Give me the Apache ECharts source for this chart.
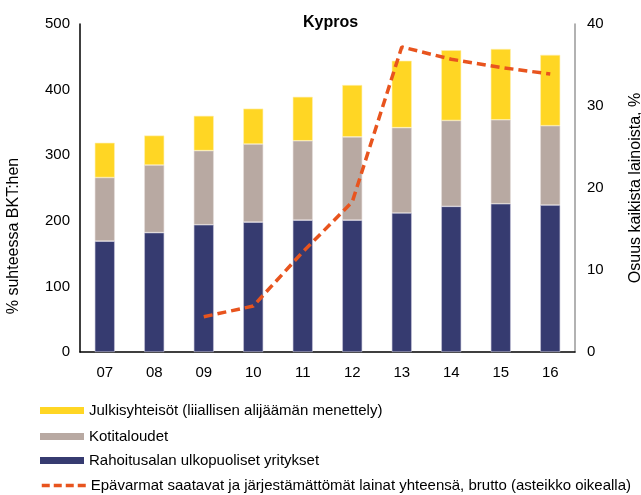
<!DOCTYPE html>
<html>
<head>
<meta charset="utf-8">
<script src="https://cdn.jsdelivr.net/npm/echarts@6/dist/echarts.min.js"></script>
<style>
  html, body { margin: 0; padding: 0; background: #fff; }
  #chart { width: 641px; height: 495px; }
</style>
</head>
<body>
<div id="chart"></div>
<script>
  var years = ['07', '08', '09', '10', '11', '12', '13', '14', '15', '16'];
  var yritykset = [169, 182, 194, 198, 201, 201, 212, 222, 226, 224];
  var kotitaloudet = [97, 103, 113, 119, 121, 127, 130, 131, 128, 121];
  var julkisyhteisot = [53, 45, 53, 54, 67, 79, 102, 107, 108, 108];
  var epavarmat = [null, null, 4.3, 5.6, 12.2, 18.3, 37.2, 35.7, 34.7, 33.9];

  var names = [
    'Julkisyhteisöt (liiallisen alijäämän menettely)',
    'Kotitaloudet',
    'Rahoitusalan ulkopuoliset yritykset',
    'Epävarmat saatavat ja järjestämättömät lainat yhteensä, brutto (asteikko oikealla)'
  ];

  var font = 'Liberation Sans, Arial, sans-serif';
  var chart = echarts.init(document.getElementById('chart'));

  // one legend per row so they stack like the original
  var legendTops = [398, 424, 448, 473];
  var legends = names.map(function (n, i) {
    var item = { name: n };
    if (i < 3) {
      item.icon = 'rect';
      item.itemStyle = { borderWidth: 0 };
    } else {
      item.itemStyle = { opacity: 0 };
    }
    return {
      left: 35,
      top: legendTops[i],
      itemWidth: 44,
      itemHeight: 7,
      selectedMode: false,
      lineStyle: { width: 3.5, type: [8, 4] },
      textStyle: { fontSize: 15, color: '#000', fontFamily: font },
      data: [item]
    };
  });

  chart.setOption({
    animation: false,
    textStyle: { fontFamily: font },
    title: {
      text: 'Kypros',
      left: 298,
      top: 10,
      textStyle: { fontSize: 16, fontWeight: 'bold', color: '#000', fontFamily: font }
    },
    legend: legends,
    grid: { left: 80, right: 66, top: 24, bottom: 143, containLabel: false, outerBoundsMode: 'none' },
    xAxis: {
      type: 'category',
      data: years,
      axisLine: { lineStyle: { color: '#000', width: 1.5 } },
      axisTick: { show: false },
      axisLabel: { fontSize: 15, color: '#000', margin: 13 }
    },
    yAxis: [
      {
        type: 'value',
        min: 0, max: 500, interval: 100,
        name: '% suhteessa BKT:hen',
        nameLocation: 'middle',
        nameGap: 58,
        nameTextStyle: { fontSize: 16, color: '#000', padding: [0, 96, 0, 0] },
        axisLine: { show: true, lineStyle: { color: '#000', width: 1.5 } },
        axisTick: { show: false },
        splitLine: { show: false },
        axisLabel: { fontSize: 15, color: '#000', margin: 10 }
      },
      {
        type: 'value',
        min: 0, max: 40, interval: 10,
        name: 'Osuus kaikista lainoista, %',
        nameLocation: 'middle',
        nameGap: 53,
        nameRotate: 90,
        nameTextStyle: { fontSize: 16, color: '#000' },
        axisLine: { show: true, lineStyle: { color: '#999', width: 1.5 } },
        axisTick: { show: false },
        splitLine: { show: false },
        axisLabel: { fontSize: 15, color: '#000', margin: 12 }
      }
    ],
    series: [
      {
        name: names[2], type: 'bar', stack: 'a', barWidth: 20,
        itemStyle: { color: '#363B70', borderColor: '#C8C6DA', borderWidth: 0.6 },
        data: yritykset
      },
      {
        name: names[1], type: 'bar', stack: 'a', barWidth: 20,
        itemStyle: { color: '#B8A9A2', borderColor: '#E6DEDA', borderWidth: 0.6 },
        data: kotitaloudet
      },
      {
        name: names[0], type: 'bar', stack: 'a', barWidth: 20,
        itemStyle: { color: '#FFD624', borderColor: '#FFF0B0', borderWidth: 0.6 },
        data: julkisyhteisot
      },
      {
        name: names[3], type: 'line', yAxisIndex: 1,
        symbol: 'none',
        lineStyle: { color: '#E8541E', width: 3.5, type: [9, 5] },
        itemStyle: { color: '#E8541E' },
        data: epavarmat
      }
    ]
  });
</script>
</body>
</html>
